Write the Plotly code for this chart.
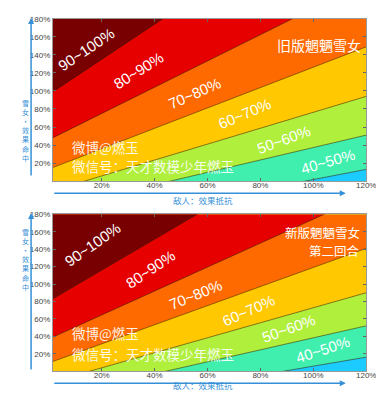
import plotly.graph_objects as go

# ---------------- data ----------------
band_labels = ["40~50%", "50~60%", "60~70%", "70~80%", "80~90%", "90~100%"]
# fills from the lowest band (<40%) up to 90~100%
band_colors = ["#1ccbff", "#40efae", "#b0ef3c", "#ffc800", "#ff6a00", "#e60000", "#780000"]

x_ticks = [20, 40, 60, 80, 100, 120]
y_ticks = [20, 40, 60, 80, 100, 120, 140, 160, 180]
x_tick_text = ["20%", "40%", "60%", "80%", "100%", "120%"]
y_tick_text = ["20%", "40%", "60%", "80%", "100%", "120%", "140%", "160%", "180%"]

# boundary lines of the 40/50/60/70/80/90 % levels: the two points where each meets the frame
old_bx = [[97, 120], [46, 120], [13.6, 120], [1.5, 120], [1.5, 92], [1.5, 43]]
old_by = [[0, 13], [0, 51], [0, 94], [15, 149], [48, 180], [99, 180]]
new_bx = [[89, 120], [44.5, 120], [15.6, 120], [1.5, 120], [1.5, 104], [1.5, 56]]
new_by = [[0, 16], [0, 52], [0, 90], [11, 141], [39, 180], [83, 180]]

old_title = "旧版魍魉雪女"
new_title = ["新版魍魉雪女", "第二回合"]
credit = ["微博@燃玉", "微信号：天才数模少年燃玉"]
y_title = "雪<br>女<br>·<br>效<br>果<br>命<br>中"
x_title = "敌人：效果抵抗"

# ---------------- figure ----------------
OFF = 8                      # page body margin
W, H = 384 - OFF, 400 - OFF
fig = go.Figure()
BLUE = "#3590d8"
CJK = "Noto Sans CJK SC"


def px(x):
    return (x - OFF) / W


def py(y):
    return 1 - (y - OFF) / H


def add_bands(bx, by, xa, ya):
    fig.add_trace(go.Scatter(x=[-100, 300, 300, -100, -100], y=[-100, -100, 5000, 5000, -100],
                             fill="toself", fillcolor=band_colors[0], mode="lines",
                             line=dict(width=0), hoverinfo="skip", xaxis=xa, yaxis=ya))
    for i, (xs, ys) in enumerate(zip(bx, by)):
        s = (ys[1] - ys[0]) / (xs[1] - xs[0])
        X0, X1 = -100, 300
        Y0 = ys[0] + s * (X0 - xs[0])
        Y1 = ys[0] + s * (X1 - xs[0])
        fig.add_trace(go.Scatter(x=[X0, X1, X1, X0, X0], y=[Y0, Y1, 5000, 5000, Y0],
                                 fill="toself", fillcolor=band_colors[i + 1], mode="lines",
                                 line=dict(color="rgba(50,25,0,0.75)", width=0.7),
                                 hoverinfo="skip", xaxis=xa, yaxis=ya))


add_bands(old_bx, old_by, "x", "y")
add_bands(new_bx, new_by, "x2", "y2")

xdom = [px(54), px(376)]
ydom_top = [py(178.8), py(15)]
ydom_bot = [py(370.8), py(212.5)]

axis_common = dict(showgrid=False, zeroline=False, ticks="inside", ticklen=3, tickwidth=0.8,
                   tickcolor="#666", showline=True, linecolor="#999", linewidth=0.8,
                   mirror="ticks", ticklabeloverflow="allow",
                   tickfont=dict(family="Liberation Sans, Arial", size=8, color="#444"))
xextra = dict(ticklabelstandoff=-4)

fig.update_layout(
    width=W, height=H, margin=dict(l=0, r=0, t=0, b=0),
    paper_bgcolor="white", plot_bgcolor="white", showlegend=False,
    xaxis=dict(domain=xdom, anchor="y", range=[1.5, 120], tickvals=x_ticks, ticktext=x_tick_text, **axis_common, **xextra),
    yaxis=dict(domain=ydom_top, anchor="x", range=[0, 180], tickvals=y_ticks, ticktext=y_tick_text, **axis_common),
    xaxis2=dict(domain=xdom, anchor="y2", range=[1.5, 120], tickvals=x_ticks, ticktext=x_tick_text, **axis_common, **xextra),
    yaxis2=dict(domain=ydom_bot, anchor="x2", range=[0, 180], tickvals=y_ticks, ticktext=y_tick_text, **axis_common),
)

# band labels (positions in data units, angles in degrees)
old_pos = [(105.4, 21.9, -16), (88.8, 46.1, -20), (74.1, 74.8, -23), (54.9, 96.9, -24), (33.9, 122.3, -32), (14.0, 146.6, -34)]
new_pos = [(103.5, 24.9, -18), (90.6, 48.9, -20), (75.5, 69.5, -24), (55.6, 87.8, -22), (38.3, 116.3, -34), (16.6, 144.9, -35)]

ann = []
for lab, (x, y, a) in zip(band_labels, old_pos):
    ann.append(dict(x=x, y=y, xref="x", yref="y", text=lab, showarrow=False, textangle=a,
                    font=dict(family="Liberation Sans, Arial", size=15, color="white")))
for lab, (x, y, a) in zip(band_labels, new_pos):
    ann.append(dict(x=x, y=y, xref="x2", yref="y2", text=lab, showarrow=False, textangle=a,
                    font=dict(family="Liberation Sans, Arial", size=15, color="white")))

ann.append(dict(x=118.6, y=151, xref="x", yref="y", text=old_title, showarrow=False, xanchor="right",
                font=dict(family=CJK, size=14, color="white")))
for txt, yy in zip(new_title, (159.5, 139)):
    ann.append(dict(x=117.9, y=yy, xref="x2", yref="y2", text=txt, showarrow=False, xanchor="right",
                    borderpad=0, font=dict(family=CJK, size=12.5, color="white")))
for (xr, yr, ys) in [("x", "y", (37.3, 16.3)), ("x2", "y2", (43.2, 19.2))]:
    for txt, yy in zip(credit, ys):
        ann.append(dict(x=8.5, y=yy, xref=xr, yref=yr, text=txt, showarrow=False, xanchor="left",
                        borderpad=0, font=dict(family=CJK, size=13.5, color="rgba(255,255,255,0.92)")))

# axis titles (stacked vertical characters) and blue arrows
for yc in (94, 292):
    ann.append(dict(x=px(21), y=py(yc), xref="paper", yref="paper", text=y_title, showarrow=False,
                    borderpad=0, font=dict(family=CJK, size=7, color=BLUE)))
for ybase in (191, 383):
    ann.append(dict(x=px(355), y=py(ybase), xref="paper", yref="paper", ax=62 - 355, ay=0,
                    axref="pixel", ayref="pixel", text="", showarrow=True, arrowhead=2, arrowsize=0.8,
                    arrowwidth=1.5, arrowcolor=BLUE))
for (ytop, ybot) in ((14, 173), (211, 369)):
    ann.append(dict(x=px(31.7), y=py(ytop), xref="paper", yref="paper", ax=0, ay=ybot - ytop,
                    axref="pixel", ayref="pixel", text="", showarrow=True, arrowhead=2, arrowsize=0.8,
                    arrowwidth=1.5, arrowcolor=BLUE))
for yy in (198, 391.5):
    ann.append(dict(x=px(208), y=py(yy), xref="paper", yref="paper", text=x_title, showarrow=False,
                    borderpad=0, font=dict(family=CJK, size=8.5, color=BLUE)))

fig.update_layout(annotations=ann)
fig.write_html("out.html")
